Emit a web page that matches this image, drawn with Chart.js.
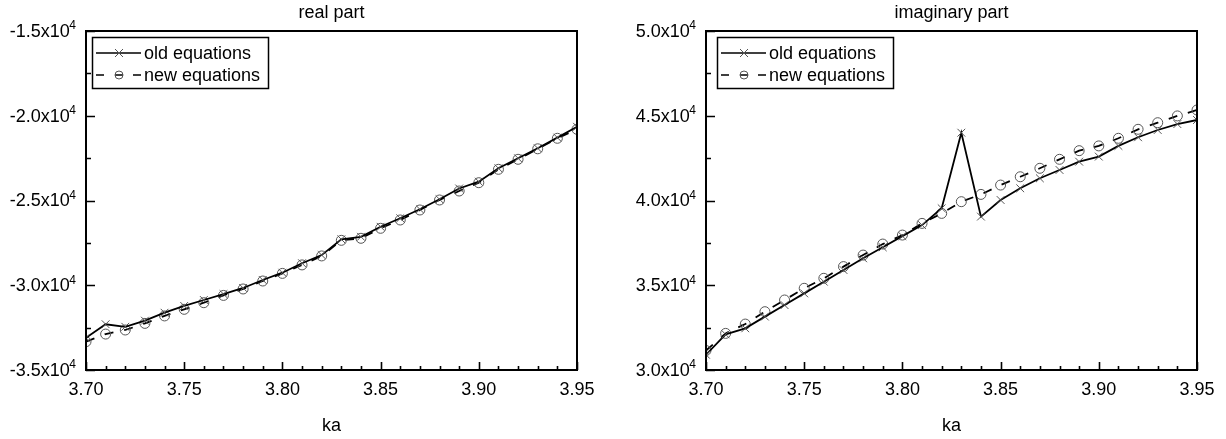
<!DOCTYPE html>
<html><head><meta charset="utf-8">
<script src="https://cdn.jsdelivr.net/npm/chart.js@4.4.1/dist/chart.umd.min.js"></script>
<style>
html,body{margin:0;padding:0;background:#fff;}
#wrap{position:relative;width:1226px;height:439px;overflow:hidden;}
.box{position:absolute;top:0;height:439px;width:613px;}
canvas{display:block;}
</style></head><body>
<div id="wrap">
<div class="box" style="left:0"><canvas id="c1" width="613" height="439"></canvas></div>
<div class="box" style="left:613px"><canvas id="c2" width="613" height="439"></canvas></div>
</div>
<script>
// ---- data ----
const ka = [3.70,3.71,3.72,3.73,3.74,3.75,3.76,3.77,3.78,3.79,3.80,3.81,3.82,3.83,3.84,3.85,3.86,3.87,3.88,3.89,3.90,3.91,3.92,3.93,3.94,3.95];
const realOld = [-33100,-32300,-32450,-32090,-31620,-31220,-30870,-30520,-30160,-29690,-29260,-28700,-28220,-27290,-27140,-26550,-26050,-25520,-24930,-24290,-23890,-23100,-22510,-21920,-21290,-20650];
const realNew = [-33330,-32880,-32640,-32250,-31810,-31420,-31030,-30600,-30220,-29750,-29300,-28800,-28270,-27350,-27230,-26640,-26150,-25560,-24970,-24440,-23950,-23160,-22570,-21950,-21330,-20800];
const imagOld = [30900,32100,32460,33150,33830,34520,35210,35900,36590,37240,37900,38550,39540,44000,39050,40030,40720,41310,41800,42290,42590,43220,43730,44160,44510,44750];
const imagNew = [31150,32160,32710,33440,34130,34820,35410,36100,36780,37430,37960,38650,39240,39930,40360,40910,41400,41900,42430,42940,43220,43670,44200,44590,44990,45340];
const xTickValues = [3.70,3.75,3.80,3.85,3.90,3.95];
const realYTicks = [-35000,-30000,-25000,-20000,-15000];
const imagYTicks = [30000,35000,40000,45000,50000];
const seriesLabels = ['old equations','new equations'];
const titles = ['real part','imaginary part'];
const xTitle = 'ka';

// ---- styling ----
const FONT = '"Liberation Sans", Arial, Helvetica, sans-serif';
const font18 = {family: FONT, size: 18, weight: 'normal', lineHeight: 1.2};
const EXP = 4;
const yMantissa = v => (v / Math.pow(10, EXP)).toFixed(1) + 'x10';

const framePlugin = {
  id: 'frame',
  afterDatasetsDraw(chart) {
    const {ctx, chartArea: a, scales: {x, y}} = chart;
    ctx.save();
    ctx.strokeStyle = '#000';
    ctx.lineWidth = 2;
    ctx.strokeRect(a.left, a.top, a.right - a.left, a.bottom - a.top);
    ctx.lineWidth = 1.6;
    ctx.beginPath();
    const nx = Math.round((x.max - x.min) / 0.01);
    for (let i = 0; i <= nx; i++) {
      const px = Math.round(x.getPixelForValue(x.min + i * 0.01)) + 0.5;
      const len = (i % 5 === 0) ? 8 : 4;
      ctx.moveTo(px, a.bottom); ctx.lineTo(px, a.bottom - len);
    }
    const ny = Math.round((y.max - y.min) / 2500);
    for (let i = 0; i <= ny; i++) {
      const py = Math.round(y.getPixelForValue(y.min + i * 2500)) + 0.5;
      const len = (i % 2 === 0) ? 9 : 5;
      ctx.moveTo(a.left, py); ctx.lineTo(a.left + len, py);
    }
    ctx.stroke();
    // y tick labels with superscript exponent
    ctx.fillStyle = '#000';
    ctx.textBaseline = 'middle';
    ctx.textAlign = 'right';
    const supFont = '12px ' + FONT, mainFont = '18px ' + FONT;
    y.ticks.forEach(t => {
      const py = y.getPixelForValue(t.value);
      const xr = a.left - 10;
      ctx.font = supFont;
      const sw = ctx.measureText(String(EXP)).width;
      ctx.fillText(String(EXP), xr, py - 5);
      ctx.font = mainFont;
      ctx.fillText(yMantissa(t.value), xr - sw + 0.5, py + 1);
    });
    ctx.restore();
  }
};

const legendPlugin = {
  id: 'boxLegend',
  afterDraw(chart, args, opts) {
    const {ctx, chartArea: a} = chart;
    const bx = a.left + opts.dx, by = a.top + 6, bw = 176, bh = 51;
    ctx.save();
    ctx.strokeStyle = '#000';
    ctx.lineWidth = 1.5;
    ctx.strokeRect(bx + 0.5, by + 0.5, bw, bh);
    const ds = chart.data.datasets;
    const rows = [by + 16, by + 38];
    ctx.lineWidth = 1.7;
    ctx.beginPath(); ctx.moveTo(bx + 4, rows[0]); ctx.lineTo(bx + 49, rows[0]); ctx.stroke();
    ctx.strokeStyle = '#555'; ctx.lineWidth = 1;
    ctx.beginPath();
    ctx.moveTo(bx + 23, rows[0] - 4); ctx.lineTo(bx + 31, rows[0] + 4);
    ctx.moveTo(bx + 31, rows[0] - 4); ctx.lineTo(bx + 23, rows[0] + 4);
    ctx.stroke();
    ctx.strokeStyle = '#000'; ctx.lineWidth = 1.7;
    ctx.beginPath();
    ctx.moveTo(bx + 4, rows[1]); ctx.lineTo(bx + 12, rows[1]);
    ctx.moveTo(bx + 41, rows[1]); ctx.lineTo(bx + 49, rows[1]);
    ctx.moveTo(bx + 23, rows[1]); ctx.lineTo(bx + 31, rows[1]);
    ctx.stroke();
    ctx.strokeStyle = '#555'; ctx.lineWidth = 1;
    ctx.beginPath(); ctx.arc(bx + 27, rows[1], 4, 0, Math.PI * 2); ctx.stroke();
    ctx.fillStyle = '#000';
    ctx.font = '18px ' + FONT;
    ctx.textBaseline = 'middle';
    ctx.textAlign = 'left';
    ctx.fillText(ds[0].label, bx + 52, rows[0] + 1);
    ctx.fillText(ds[1].label, bx + 52, rows[1] + 1);
    ctx.restore();
  }
};

function makeChart(id, title, oldVals, newVals, yTicks, yWidth, padRight, legendDx) {
  const pts = vals => ka.map((x, i) => ({x: x, y: vals[i]}));
  return new Chart(document.getElementById(id), {
    type: 'line',
    data: {
      datasets: [
        {label: seriesLabels[0], data: pts(oldVals), borderColor: '#000', borderWidth: 1.8,
         pointStyle: 'crossRot', pointRadius: 5.5, pointBorderColor: '#555', pointBorderWidth: 1,
         pointBackgroundColor: 'rgba(0,0,0,0)', tension: 0, fill: false},
        {label: seriesLabels[1], data: pts(newVals), borderColor: '#000', borderWidth: 1.8,
         borderDash: [9, 11], pointStyle: 'circle', pointRadius: 5, pointBorderColor: '#555',
         pointBorderWidth: 1, pointBackgroundColor: 'rgba(0,0,0,0)', tension: 0, fill: false}
      ]
    },
    options: {
      responsive: false, animation: false, devicePixelRatio: 1,
      layout: {padding: {left: 0, right: padRight, top: 0, bottom: 0}},
      plugins: {
        legend: {display: false},
        tooltip: {enabled: false},
        title: {display: true, text: title, fullSize: false, color: '#000', font: font18,
                padding: {top: 2, bottom: 7.4}},
        boxLegend: {dx: legendDx}
      },
      scales: {
        x: {
          type: 'linear', min: ka[0], max: ka[ka.length - 1],
          afterBuildTicks: s => { s.ticks = xTickValues.map(v => ({value: v})); },
          afterFit: s => { s.height = 69; },
          grid: {display: false, drawTicks: false}, border: {display: false},
          ticks: {padding: 9, color: '#000', font: font18, maxRotation: 0, autoSkip: false,
                  callback: v => Number(v).toFixed(2)},
          title: {display: true, text: xTitle, color: '#000', font: font18, padding: {top: 0, bottom: 2}}
        },
        y: {
          type: 'linear', min: yTicks[0], max: yTicks[yTicks.length - 1],
          afterBuildTicks: s => { s.ticks = yTicks.map(v => ({value: v})); },
          afterFit: s => { s.width = yWidth; },
          grid: {display: false, drawTicks: false}, border: {display: false},
          ticks: {display: false}
        }
      }
    },
    plugins: [framePlugin, legendPlugin]
  });
}

makeChart('c1', titles[0], realOld, realNew, realYTicks, 86, 36, 6);
makeChart('c2', titles[1], imagOld, imagNew, imagYTicks, 93, 29, 11);
</script>
</body></html>
